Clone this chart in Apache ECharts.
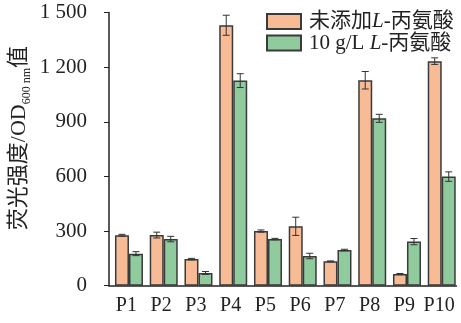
<!DOCTYPE html>
<html><head><meta charset="utf-8">
<script src="https://cdn.jsdelivr.net/npm/echarts@6/dist/echarts.min.js"></script>
<style>html,body{margin:0;padding:0;background:#fff}#c{width:461px;height:323px}</style>
</head><body><div id="c"></div>
<script>
var categories = ['P1','P2','P3','P4','P5','P6','P7','P8','P9','P10'];
var seriesNames = ['未添加L-丙氨酸', '10 g/L L-丙氨酸'];
var controlValues = [277, 278, 146, 1430, 300, 326, 134, 1128, 64, 1233];
var controlErrors = [5, 16, 4, 55, 6, 50, 2, 48, 3, 18];
var alanineValues = [176, 256, 70, 1126, 256, 163, 196, 919, 242, 599];
var alanineErrors = [11, 15, 8, 38, 4, 15, 4, 22, 17, 26];
var yTicks = [0, 300, 600, 900, 1200, 1500];

var FONT = "'Liberation Serif', 'Noto Sans CJK SC', serif";
var BORDER = '#3a3a3a';
var ORANGE = '#F7BC95';
var GREEN = '#8FCB9D';
var BAR_W = 14, SHIFT_W = 5.2;

function errData(vals, errs) {
  return vals.map(function (v, i) { return [i, v - errs[i], v + errs[i]]; });
}
function errSeries(vals, errs, off) {
  return {
    type: 'custom', z: 10, silent: true,
    data: errData(vals, errs),
    renderItem: function (params, api) {
      var x = api.coord([api.value(0), 0])[0] + off;
      var lo = api.coord([api.value(0), api.value(1)])[1];
      var hi = api.coord([api.value(0), api.value(2)])[1];
      var hw = 3.5;
      var st = { stroke: '#333', lineWidth: 1, fill: null };
      return { type: 'group', children: [
        { type: 'line', shape: { x1: x, y1: lo, x2: x, y2: hi }, style: st },
        { type: 'line', shape: { x1: x - hw, y1: lo, x2: x + hw, y2: lo }, style: st },
        { type: 'line', shape: { x1: x - hw, y1: hi, x2: x + hw, y2: hi }, style: st }
      ]};
    }
  };
}
var shift = SHIFT_W / 2;
var richLegend = {
  a: { fontFamily: FONT, fontSize: 21, color: '#222', lineHeight: 19 },
  i: { fontFamily: FONT, fontSize: 21, color: '#222', fontStyle: 'italic', lineHeight: 19 }
};
var chart = echarts.init(document.getElementById('c'), null, { renderer: 'canvas' });
chart.setOption({
  animation: false,
  grid: { left: 101.3, right: 4.5, top: 12.5, bottom: 37.3 },
  legend: {
    data: seriesNames, orient: 'vertical', left: 266, top: 11, padding: 0,
    itemWidth: 34, itemHeight: 15, itemGap: 0.5, icon: 'rect',
    textStyle: { rich: richLegend, padding: [0, 0, 0, 3] },
    formatter: function (name) {
      if (name === seriesNames[0]) return '{a|未添加}{i|L}{a|-丙氨酸}';
      return '{a|10 g/L }{i|L}{a|-丙氨酸}';
    }
  },
  xAxis: {
    type: 'category', data: categories,
    axisLine: { lineStyle: { color: '#222', width: 1.5 } },
    axisTick: { show: false },
    axisLabel: { fontFamily: FONT, fontSize: 20, color: '#222', margin: 10, interval: 0 }
  },
  yAxis: {
    type: 'value', min: 0, max: 1500, interval: 300,
    splitLine: { show: false },
    axisLine: { show: true, lineStyle: { color: '#222', width: 1.5 } },
    axisTick: { show: true, inside: false, length: 5, lineStyle: { color: '#222', width: 1 } },
    axisLabel: {
      fontFamily: FONT, fontSize: 21, color: '#222', margin: 22,
      formatter: function (v) {
        if (yTicks.indexOf(v) < 0) return '';
        return v >= 1000 ? Math.floor(v / 1000) + ' ' + String(v % 1000).padStart(3, '0') : String(v);
      }
    },
    name: '{a|荧光强度/OD}{s|600 nm}{a|值}',
    nameLocation: 'middle', nameGap: 79, nameRotate: 90, nameMoveOverlap: false,
    nameTextStyle: {
      padding: [0, 0, 0, 22],
      rich: {
        a: { fontFamily: FONT, fontSize: 22, color: '#222', lineHeight: 25, verticalAlign: 'bottom' },
        s: { fontFamily: FONT, fontSize: 12, color: '#222', lineHeight: 25, verticalAlign: 'bottom', padding: [0, 0, -3, 0] }
      }
    }
  },
  series: [
    { name: '_shift', type: 'bar', barWidth: SHIFT_W, barGap: '0%', data: [], itemStyle: { color: 'transparent' }, silent: true },
    { name: seriesNames[0], type: 'bar', barWidth: BAR_W, barGap: '0%', data: controlValues,
      itemStyle: { color: ORANGE, borderColor: BORDER, borderWidth: 1.5 } },
    { name: seriesNames[1], type: 'bar', barWidth: BAR_W, barGap: '0%', data: alanineValues,
      itemStyle: { color: GREEN, borderColor: BORDER, borderWidth: 1.5 } },
    errSeries(controlValues, controlErrors, -BAR_W / 2 + shift),
    errSeries(alanineValues, alanineErrors, BAR_W / 2 + shift)
  ]
});
</script></body></html>
